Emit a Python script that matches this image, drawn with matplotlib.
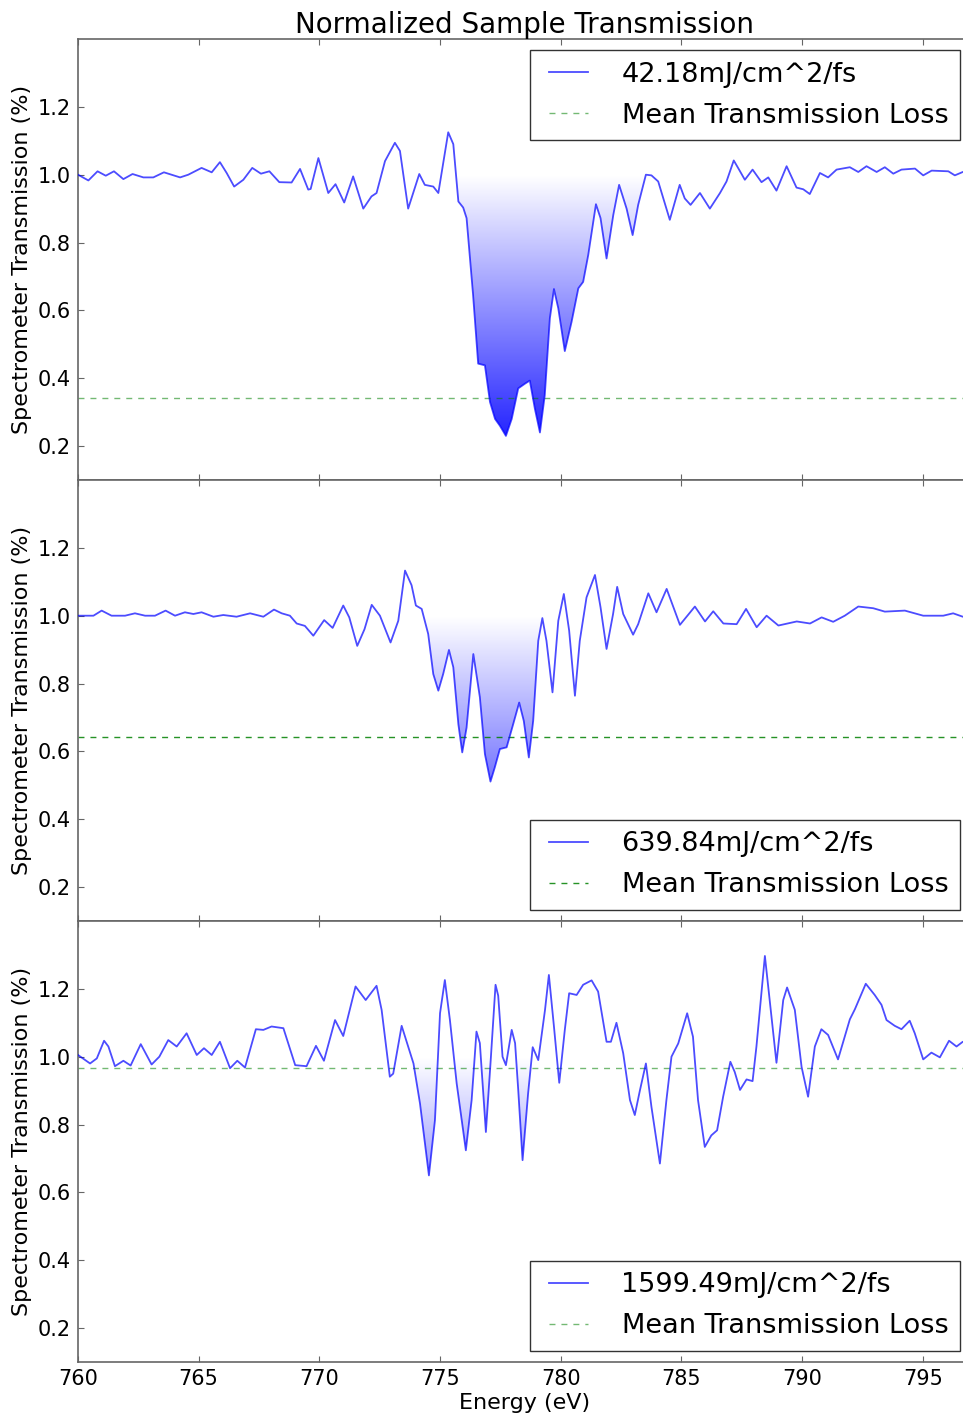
import numpy as np
import matplotlib.pyplot as plt
from matplotlib.path import Path
from matplotlib.lines import Line2D
from matplotlib.legend_handler import HandlerLine2D

plt.close('all')

# legend labels and mean transmission loss per panel
fluence = ['42.18mJ/cm^2/fs', '639.84mJ/cm^2/fs', '1599.49mJ/cm^2/fs']
mean_loss = [0.341, 0.643, 0.966]
# energy window of the shaded absorption edge
edge_window = [(775.4, 783.6), (774.3, 779.25), (773.5, 778.9)]

# panel 1: 42.18 mJ/cm^2/fs
e1 = [760.0, 760.43, 760.81, 761.15, 761.49, 761.88, 762.26, 762.71, 763.12, 763.56,
      764.23, 764.57, 765.12, 765.54, 765.88, 766.16, 766.47, 766.85, 767.22, 767.58,
      767.93, 768.34, 768.85, 769.2, 769.54, 769.64, 769.96, 770.37, 770.67, 771.03,
      771.4, 771.82, 772.16, 772.37, 772.72, 773.13, 773.34, 773.68, 774.14, 774.37,
      774.72, 774.93, 775.34, 775.55, 775.76, 775.96, 776.1, 776.37, 776.58, 776.86,
      777.07, 777.28, 777.48, 777.73, 777.97, 778.24, 778.52, 778.72, 778.93, 779.14,
      779.34, 779.55, 779.72, 779.9, 780.17, 780.45, 780.73, 780.93, 781.14, 781.46,
      781.65, 781.9, 782.18, 782.42, 782.73, 782.98, 783.21, 783.53, 783.76, 784.04,
      784.52, 784.93, 785.14, 785.38, 785.77, 786.18, 786.6, 786.87, 787.17, 787.39,
      787.63, 787.95, 788.32, 788.6, 788.94, 789.36, 789.77, 790.05, 790.32, 790.74,
      791.08, 791.43, 791.98, 792.33, 792.67, 793.09, 793.43, 793.78, 794.12, 794.68,
      795.02, 795.37, 796.06, 796.33, 796.66, 797.0]
t1 = [1.0, 0.983, 1.01, 0.997, 1.01, 0.987, 1.002, 0.992, 0.992, 1.007,
      0.992, 1.0, 1.02, 1.007, 1.037, 1.005, 0.965, 0.985, 1.02, 1.003,
      1.01, 0.978, 0.977, 1.017, 0.956, 0.958, 1.049, 0.946, 0.972, 0.918,
      0.995, 0.90, 0.936, 0.946, 1.04, 1.094, 1.07, 0.90, 1.002, 0.97,
      0.965, 0.946, 1.125, 1.09, 0.921, 0.903, 0.872, 0.645, 0.443, 0.438,
      0.33, 0.28, 0.26, 0.23, 0.28, 0.37, 0.384, 0.393, 0.31, 0.24,
      0.35, 0.576, 0.663, 0.606, 0.48, 0.566, 0.665, 0.684, 0.763, 0.913,
      0.872, 0.753, 0.882, 0.97, 0.90, 0.822, 0.911, 1.0, 0.998, 0.98,
      0.867, 0.97, 0.93, 0.911, 0.946, 0.90, 0.946, 0.98, 1.042, 1.015,
      0.985, 1.015, 0.978, 0.992, 0.953, 1.025, 0.962, 0.957, 0.943, 1.005,
      0.992, 1.015, 1.022, 1.008, 1.025, 1.008, 1.022, 1.003, 1.015, 1.018,
      0.998, 1.012, 1.01, 0.998, 1.008, 1.01]

# panel 2: 639.84 mJ/cm^2/fs
e2 = [760.0, 760.64, 760.98, 761.39, 761.95, 762.36, 762.78, 763.19, 763.63, 764.02,
      764.43, 764.78, 765.12, 765.61, 766.02, 766.57, 767.13, 767.68, 768.12, 768.44,
      768.78, 769.06, 769.4, 769.75, 770.2, 770.55, 770.99, 771.24, 771.57, 771.87,
      772.17, 772.51, 772.95, 773.27, 773.55, 773.82, 774.0, 774.24, 774.51, 774.72,
      774.93, 775.13, 775.37, 775.55, 775.76, 775.92, 776.1, 776.38, 776.65, 776.86,
      777.09, 777.27, 777.48, 777.76, 778.03, 778.28, 778.47, 778.68, 778.86, 779.07,
      779.24, 779.41, 779.66, 779.9, 780.13, 780.35, 780.59, 780.79, 781.07, 781.42,
      781.65, 781.9, 782.17, 782.34, 782.59, 783.0, 783.21, 783.63, 783.97, 784.39,
      784.94, 785.56, 785.98, 786.32, 786.74, 787.29, 787.68, 788.12, 788.53, 789.02,
      789.78, 790.33, 790.81, 791.29, 791.77, 792.33, 792.95, 793.43, 794.26, 795.02,
      795.85, 796.26, 796.66, 797.0]
t2 = [1.0, 1.0, 1.015, 1.0, 1.0, 1.007, 1.0, 1.0, 1.015, 1.0,
      1.01, 1.005, 1.01, 0.997, 1.002, 0.997, 1.007, 0.997, 1.018, 1.007,
      1.0, 0.977, 0.97, 0.941, 0.987, 0.964, 1.03, 0.995, 0.911, 0.96,
      1.032, 1.0, 0.921, 0.985, 1.133, 1.09, 1.03, 1.02, 0.946, 0.828,
      0.779, 0.828, 0.899, 0.848, 0.68, 0.597, 0.67, 0.887, 0.76, 0.592,
      0.511, 0.553, 0.607, 0.612, 0.68, 0.744, 0.69, 0.582, 0.69, 0.926,
      0.993, 0.926, 0.774, 0.985, 1.064, 0.956, 0.764, 0.926, 1.054, 1.12,
      1.025, 0.902, 1.005, 1.085, 1.005, 0.944, 0.975, 1.066, 1.01, 1.079,
      0.973, 1.027, 0.983, 1.013, 0.977, 0.975, 1.02, 0.966, 1.0, 0.971,
      0.983, 0.977, 0.995, 0.982, 1.0, 1.027, 1.022, 1.012, 1.015, 1.0,
      1.0, 1.007, 0.997, 1.0]

# panel 3: 1599.49 mJ/cm^2/fs
e3 = [760.0, 760.5, 760.78, 761.08, 761.26, 761.53, 761.88, 762.18, 762.6, 763.05,
      763.37, 763.74, 764.09, 764.5, 764.92, 765.22, 765.54, 765.88, 766.3, 766.6,
      766.92, 767.37, 767.68, 768.02, 768.51, 769.0, 769.47, 769.86, 770.19, 770.65,
      770.99, 771.5, 771.92, 772.37, 772.58, 772.92, 773.06, 773.41, 773.9, 774.17,
      774.54, 774.79, 775.0, 775.2, 775.41, 775.69, 776.07, 776.31, 776.51, 776.65,
      776.9, 777.1, 777.3, 777.41, 777.59, 777.73, 777.97, 778.11, 778.24, 778.42,
      778.65, 778.84, 779.07, 779.35, 779.51, 779.72, 779.94, 780.17, 780.35, 780.66,
      780.93, 781.28, 781.55, 781.9, 782.08, 782.31, 782.59, 782.87, 783.07, 783.28,
      783.53, 783.76, 784.11, 784.38, 784.59, 784.87, 785.24, 785.48, 785.69, 785.97,
      786.24, 786.48, 786.73, 787.03, 787.21, 787.43, 787.7, 787.95, 788.11, 788.46,
      788.67, 788.94, 789.22, 789.38, 789.7, 789.98, 790.25, 790.53, 790.8, 791.08,
      791.49, 791.98, 792.19, 792.64, 793.01, 793.29, 793.5, 793.84, 794.12, 794.46,
      794.67, 795.02, 795.36, 795.71, 796.09, 796.4, 796.66, 797.0]
t3 = [1.005, 0.98, 0.995, 1.047, 1.03, 0.972, 0.988, 0.974, 1.037, 0.977,
      1.0, 1.049, 1.03, 1.069, 1.005, 1.025, 1.005, 1.044, 0.966, 0.988,
      0.968, 1.081, 1.079, 1.089, 1.084, 0.975, 0.972, 1.032, 0.988, 1.108,
      1.061, 1.207, 1.167, 1.209, 1.138, 0.941, 0.95, 1.091, 0.98, 0.862,
      0.65, 0.813, 1.128, 1.226, 1.108, 0.921, 0.724, 0.872, 1.074, 1.04,
      0.778, 0.99, 1.212, 1.18, 1.0, 0.975, 1.079, 1.04, 0.902, 0.695,
      0.892, 1.028, 0.99, 1.138, 1.241, 1.089, 0.923, 1.079, 1.187, 1.182,
      1.212, 1.225, 1.192, 1.044, 1.044, 1.1, 1.01, 0.872, 0.828, 0.90,
      0.98, 0.852, 0.685, 0.872, 1.0, 1.039, 1.128, 1.059, 0.872, 0.734,
      0.768, 0.783, 0.882, 0.985, 0.955, 0.902, 0.933, 0.928, 1.03, 1.297,
      1.158, 0.982, 1.167, 1.204, 1.138, 0.97, 0.882, 1.03, 1.081, 1.064,
      0.992, 1.11, 1.14, 1.215, 1.182, 1.153, 1.108, 1.091, 1.081, 1.106,
      1.069, 0.992, 1.012, 0.998, 1.047, 1.03, 1.044, 1.04]

energies = [e1, e2, e3]
trans = [t1, t2, t3]
loss_alpha = [0.55, 0.85, 0.55]

fig = plt.figure(figsize=(9.63, 14.14), dpi=100)
W, H = 963.0, 1414.0
left, right = 78, 971
tops = [39, 480, 921]
axh = 441

axes = []
for i in range(3):
    ax = fig.add_axes([left / W, 1 - (tops[i] + axh) / H, (right - left) / W, axh / H],
                      sharex=axes[0] if axes else None)
    axes.append(ax)

for i, ax in enumerate(axes):
    e = np.array(energies[i])
    t = np.array(trans[i])

    # gradient shading between the curve and 1.0 inside the edge window
    lo, hi = edge_window[i]
    mask = (e >= lo) & (e <= hi) & (t < 1.0)
    poly = ax.fill_between(e, t, 1.0, where=mask, interpolate=True,
                           facecolor='none', edgecolor='none')
    clip = Path.make_compound_path(*poly.get_paths())
    ny = 256
    rgba = np.zeros((ny, 1, 4))
    rgba[..., 2] = 1.0
    rgba[:, 0, 3] = np.linspace(0.0, 1.0, ny)
    im = ax.imshow(rgba, extent=[lo - 0.5, hi + 0.5, 0.1, 1.0], origin='upper',
                   aspect='auto', interpolation='bilinear', zorder=1)
    im.set_clip_path(clip, transform=ax.transData)

    ax.plot(e, t, color='b', lw=1.3, alpha=0.7, zorder=3, solid_joinstyle='round',
            label=fluence[i])
    ax.axhline(mean_loss[i], color='g', ls='--', dashes=(4.3, 4.3), lw=1.0,
               alpha=loss_alpha[i], zorder=2, label='Mean Transmission Loss')

    ax.set_xlim(760, 797)
    ax.set_ylim(0.1, 1.4)
    ax.set_yticks([0.2, 0.4, 0.6, 0.8, 1.0, 1.2])
    ax.set_xticks([760, 765, 770, 775, 780, 785, 790, 795])
    ax.tick_params(direction='in', top=True, right=True, length=4, width=0.8,
                   color='#666666', labelsize=15, pad=5)
    for sp in ax.spines.values():
        sp.set_color('#666666')
        sp.set_linewidth(1.2)
    ax.set_ylabel('Spectrometer Transmission (%)', fontsize=16, labelpad=4)

    leg = ax.legend(loc='upper right' if i == 0 else 'lower right', fontsize=19.5,
                    handlelength=1.72, handletextpad=1.25, borderpad=0.42,
                    labelspacing=0.55, borderaxespad=0.42, fancybox=False,
                    framealpha=1.0, edgecolor='#333333',
                    handler_map={Line2D: HandlerLine2D(xpad=0.3)})
    leg.get_frame().set_linewidth(1.0)

for ax in axes[:2]:
    ax.tick_params(labelbottom=False)

axes[0].set_title('Normalized Sample Transmission', fontsize=20, pad=2)
axes[2].set_xlabel('Energy (eV)', fontsize=16, labelpad=3)

fig.savefig('out.png', dpi=100)
